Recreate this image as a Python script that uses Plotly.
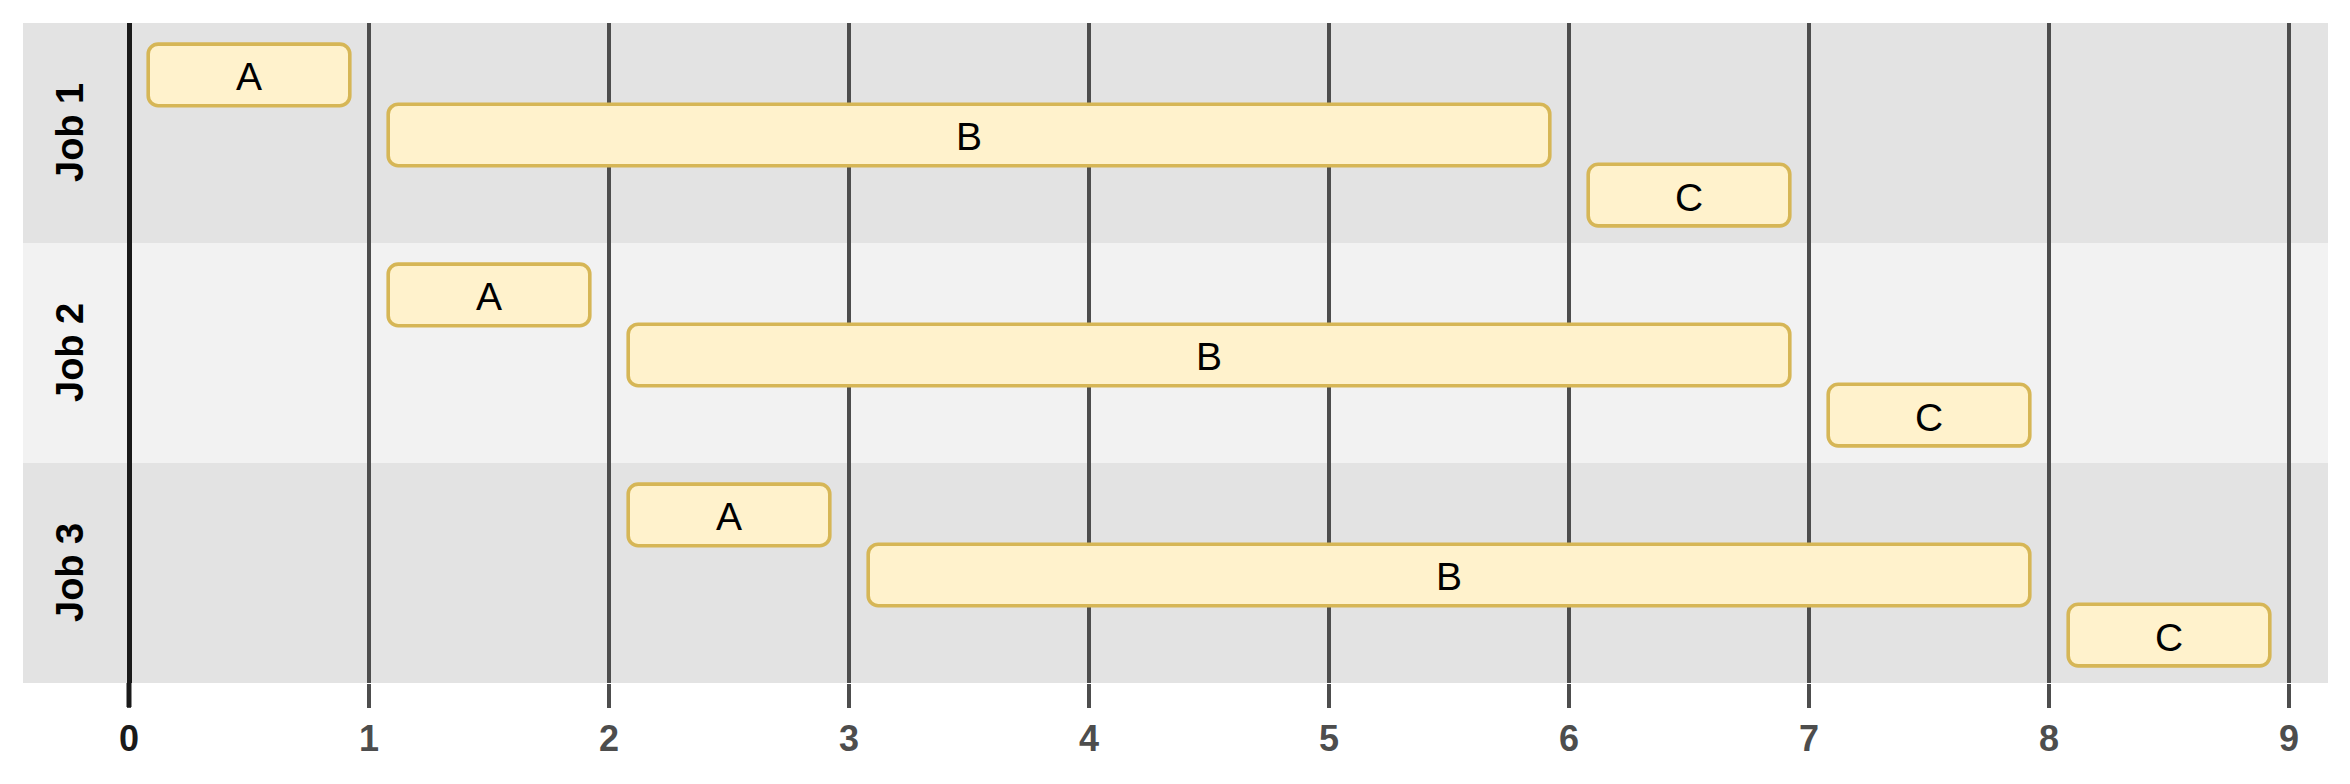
import plotly.graph_objects as go

# ---- data ----
jobs = ["Job 1", "Job 2", "Job 3"]
tasks = ["A", "B", "C"]
job_starts_A = [0, 1, 2]
job_starts_B = [1, 2, 3]
job_starts_C = [6, 7, 8]
task_durations = {"A": 1, "B": 5, "C": 1}
x_ticks = [0, 1, 2, 3, 4, 5, 6, 7, 8, 9]

starts_by_task = {"A": job_starts_A, "B": job_starts_B, "C": job_starts_C}

# ---- styling ----
band_colors = ["#e3e3e3", "#f2f2f2", "#e3e3e3"]
fill = "#fff2cc"
stroke = "#d6b656"
grid_col = "#4d4d4d"
inset = 0.08
sub_offsets = {"A": -0.264, "B": 0.009, "C": 0.282}
bar_h = 0.28

W, H = 2334, 768
ml, mr, mt, mb = 15, 14, 15, 93
px_per_unit = 240.0
zero_px = 121
x0_px = zero_px - ml
plot_w = W - ml - mr
xr = [-x0_px / px_per_unit, (plot_w - x0_px) / px_per_unit]

fig = go.Figure()

# background bands
for i, j in enumerate(jobs):
    fig.add_shape(type="rect", xref="paper", yref="y", x0=0, x1=1,
                  y0=i - 0.5, y1=i + 0.5, fillcolor=band_colors[i],
                  line=dict(width=0), layer="below")

# bars
bx, bbase, by, btext = [], [], [], []
for t in tasks:
    for i, j in enumerate(jobs):
        s = starts_by_task[t][i]
        d = task_durations[t]
        bbase.append(s + inset)
        bx.append(d - 2 * inset)
        by.append(i + sub_offsets[t])
        btext.append(t)

fig.add_trace(go.Bar(
    orientation="h", base=bbase, x=bx, y=by, width=bar_h,
    marker=dict(color=fill, line=dict(color=stroke, width=3.6), cornerradius=10),
    hoverinfo="skip", showlegend=False,
))
for b, w, yv, t in zip(bbase, bx, by, btext):
    fig.add_annotation(x=b + w / 2, y=yv, xref="x", yref="y", text=t,
                       showarrow=False, yshift=-2,
                       font=dict(family="Liberation Sans, Arial, sans-serif", size=39,
                                 color="#000000"))

# job labels
for i, j in enumerate(jobs):
    fig.add_annotation(x=(62 - zero_px) / px_per_unit, y=i, xref="x", yref="y",
                       text="<b>%s</b>" % j, textangle=-90, showarrow=False,
                       font=dict(family="Liberation Sans, Arial, sans-serif", size=38, color="#000000"))

# zero line extension (tick) in black
fig.add_shape(type="line", xref="x", yref="paper", x0=0, x1=0,
              y0=0, y1=-24 / (H - mt - mb), line=dict(color="#1a1a1a", width=5))

ticktext = []
for v in x_ticks:
    if v == 0:
        ticktext.append("<span style='color:#1a1a1a'>%d</span>" % v)
    else:
        ticktext.append(str(v))

fig.update_layout(
    width=W, height=H,
    margin=dict(l=ml, r=mr, t=mt, b=mb),
    paper_bgcolor="white", plot_bgcolor="white",
    barmode="overlay",
    xaxis=dict(range=xr, tickvals=x_ticks, ticktext=ticktext, showgrid=True,
               gridcolor=grid_col, gridwidth=4, zeroline=True, zerolinecolor="#1a1a1a",
               zerolinewidth=5, ticks="outside", ticklen=24, tickwidth=4,
               tickcolor=grid_col, showline=False, layer="below traces",
               tickfont=dict(family="Liberation Sans, Arial, sans-serif", size=36,
                             color=grid_col, weight="bold")),
    yaxis=dict(range=[2.5, -0.5], showgrid=False, zeroline=False,
               showticklabels=False, ticks=""),
)

fig.write_html("out.html")
